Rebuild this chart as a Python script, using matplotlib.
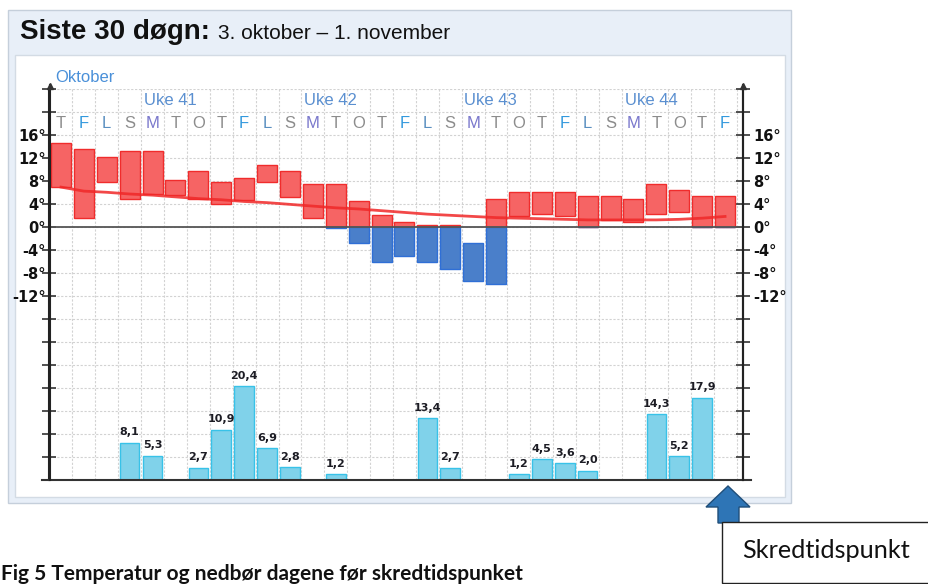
import matplotlib
matplotlib.use("Agg")
import matplotlib.pyplot as plt
from matplotlib.patches import Rectangle, Polygon
from matplotlib.lines import Line2D

W, H = 929, 584

# ---------------- data ----------------
days = ["T", "F", "L", "S", "M", "T", "O", "T", "F", "L", "S", "M", "T", "O", "T",
        "F", "L", "S", "M", "T", "O", "T", "F", "L", "S", "M", "T", "O", "T", "F"]
week_labels = ["Uke 41", "Uke 42", "Uke 43", "Uke 44"]
week_start = [4, 11, 18, 25]
temp_max = [14.5, 13.5, 12.1, 13.2, 13.2, 8.1, 9.7, 7.8, 8.4, 10.8, 9.7, 7.4, 7.4, 4.4, 2.0,
            0.8, 0.3, 0.3, -2.9, 4.8, 6.1, 6.1, 6.1, 5.4, 5.4, 4.8, 7.4, 6.4, 5.4, 5.4]
temp_min = [7.0, 1.6, 7.7, 4.9, 5.7, 5.5, 4.9, 3.9, 4.6, 7.7, 5.2, 1.6, -0.2, -2.8, -6.1,
            -5.1, -6.1, -7.4, -9.4, -9.9, 1.9, 2.2, 1.9, -0.1, 1.2, 0.9, 2.3, 2.6, -0.1, -0.1]
temp_normal = [6.9, 6.2, 6.0, 5.7, 5.5, 5.2, 4.9, 4.7, 4.4, 4.2, 3.9, 3.6, 3.3, 3.1, 2.8,
               2.5, 2.2, 2.0, 1.8, 1.6, 1.5, 1.4, 1.3, 1.2, 1.2, 1.2, 1.2, 1.3, 1.5, 1.8]
precip = [0, 0, 0, 8.1, 5.3, 0, 2.7, 10.9, 20.4, 6.9, 2.8, 0, 1.2, 0, 0,
          0, 13.4, 2.7, 0, 0, 1.2, 4.5, 3.6, 2.0, 0, 0, 14.3, 5.2, 17.9, 0]
temp_tick_vals = [16, 12, 8, 4, 0, -4, -8, -12]
title_bold = "Siste 30 døgn:"
title_rest = "3. oktober – 1. november"
month_label = "Oktober"
caption = "Fig 5 Temperatur og nedbør dagene før skredtidspunket"
marker_text = "Skredtidspunkt"

# ---------------- helpers ----------------
def fx(x):
    return x / W

def fy(y):
    return 1 - y / H

fig = plt.figure(figsize=(W / 100, H / 100), dpi=100)
fig.patch.set_facecolor("white")

# panel background
fig.patches.append(Rectangle((fx(8), fy(503)), fx(791 - 8), (503 - 10) / H,
                             transform=fig.transFigure, facecolor="#e8eff8",
                             edgecolor="#c5cfdb", lw=1.0, zorder=-3))
fig.patches.append(Rectangle((fx(15), fy(497)), fx(785 - 15), (497 - 55) / H,
                             transform=fig.transFigure, facecolor="white",
                             edgecolor="#d3dbe4", lw=1.0, zorder=-2))

fig.text(fx(20), fy(39), title_bold, fontsize=20, fontweight="bold",
         family="Liberation Sans", color="#111111", va="baseline", ha="left")
fig.text(fx(218), fy(39), title_rest, fontsize=15, family="Liberation Sans",
         color="#111111", va="baseline", ha="left")
fig.text(fx(55), fy(82), month_label, fontsize=12, family="Liberation Sans",
         color="#4a90d9", va="baseline", ha="left")

# ---------------- axes ----------------
ax_left, ax_right, ax_bot, ax_top = 49.5, 743.0, 480.0, 88.7
ax = fig.add_axes([fx(ax_left), fy(ax_bot), fx(ax_right - ax_left), (ax_bot - ax_top) / H])
ax.set_facecolor("none")
col_w = 22.9
xr = 29.5 + (ax_right - (ax_left + 30 * col_w)) / col_w
ax.set_xlim(-0.5, xr)
ax.set_ylim(-44, 24)

# grid
for i in range(31):
    ax.axvline(i - 0.5, color="#d2d2d2", lw=0.8, ls=(0, (2, 1.5)), zorder=0)
for v in range(-44, 25, 4):
    ax.axhline(v, color="#d2d2d2", lw=0.8, ls=(0, (2, 1.5)), zorder=0)
ax.axhline(0, color="#555555", lw=1.3, zorder=3)

# temperature bars
bw = 0.87
for i, (lo, hi) in enumerate(zip(temp_min, temp_max)):
    if hi > 0:
        b = max(lo, 0)
        ax.bar(i, hi - b, bottom=b, width=bw, color="#f66464", edgecolor="#f02c2c",
               lw=1.0, zorder=2)
    if lo < 0:
        t = min(hi, 0)
        ax.bar(i, t - lo, bottom=lo, width=bw, color="#4a7fca", edgecolor="#2f6fd6",
               lw=1.0, zorder=2)

ax.plot(range(len(temp_normal)), temp_normal, color="#f02828", lw=2.0, alpha=0.85, zorder=4)

# day letters and weeks
day_colors = {"F": "#3399dd", "L": "#5a8fc0", "M": "#7a78cc"}
for i, d in enumerate(days):
    ax.text(i, 18, d, ha="center", va="center", fontsize=12, family="Liberation Sans",
            color=day_colors.get(d, "#8c8c8c"), zorder=5)
for lab, s in zip(week_labels, week_start):
    ax.text(s - 0.5 + 0.12, 22, lab, ha="left", va="center", fontsize=12,
            family="Liberation Sans", color="#5a8fd0", zorder=5)

# precipitation axes (twinx resets tick sides of ax, so ticks configured afterwards)
axp = ax.twinx()
axp.set_ylim(0, 85)
axp.axis("off")
pb = [i for i, p in enumerate(precip) if p > 0]
pv = [precip[i] for i in pb]
axp.bar(pb, pv, width=0.86, color="#80d2ea", edgecolor="#38c2e8", lw=1.0, zorder=3)
for i, p in zip(pb, pv):
    axp.annotate(f"{p:.1f}".replace(".", ","), (i, p), xytext=(0, 4), textcoords="offset points",
                 ha="center", va="bottom", fontsize=8, fontweight="bold",
                 family="DejaVu Sans", color="#1c1c24")

# ticks
ax.set_xticks([])
ticks = list(range(-44, 25, 4))
ax.set_yticks(ticks)
ax.set_yticklabels([f"{v}°" if v in temp_tick_vals else "" for v in ticks])
ax.tick_params(axis="y", which="both", left=True, right=True, labelleft=True, labelright=False,
               direction="inout", length=10, width=1.2, color="#333333", labelsize=10.5,
               labelcolor="#111111", pad=-2.2)
for t in ax.yaxis.get_major_ticks():
    t.label1.set_fontweight("bold")
# right-hand labels
for v in temp_tick_vals:
    ax.annotate(f"{v}°", (1, v), xycoords=("axes fraction", "data"), xytext=(7.5, 0),
                textcoords="offset points", ha="left", va="center_baseline", fontsize=10.5,
                fontweight="bold", color="#111111", annotation_clip=False)
for spine in ["top", "bottom"]:
    ax.spines[spine].set_visible(False)
for spine in ["left", "right"]:
    ax.spines[spine].set_color("#222222")
    ax.spines[spine].set_linewidth(1.5)

# axis decorations in figure pixels
fig.lines.append(Line2D([fx(42), fx(751)], [fy(480), fy(480)], transform=fig.transFigure,
                        color="#333333", lw=1.5))
for xa in (50, 743):
    fig.lines.append(Line2D([fx(xa), fx(xa)], [fy(480), fy(85)], transform=fig.transFigure,
                            color="#222222", lw=1.5))
    fig.lines.append(Line2D([fx(xa)], [fy(86)], transform=fig.transFigure, marker="^",
                            ms=4, color="#333333"))

# arrow and marker box
arrow = Polygon([(fx(728), fy(486)), (fx(750), fy(507)), (fx(739), fy(507)), (fx(739), fy(523)),
                 (fx(718), fy(523)), (fx(718), fy(507)), (fx(706), fy(507))],
                closed=True, transform=fig.transFigure, facecolor="#2e75b6",
                edgecolor="#1f4e79", lw=1.0, zorder=5)
fig.patches.append(arrow)
fig.patches.append(Rectangle((fx(722), fy(583)), fx(240), (583 - 522) / H,
                             transform=fig.transFigure, facecolor="white",
                             edgecolor="#222222", lw=1.0, zorder=6))
fig.text(fx(742), fy(558), marker_text, fontsize=18.2, family="Lato", color="#111111",
         va="baseline", ha="left", zorder=7)
fig.text(fx(1), fy(580), caption, fontsize=15, family="Lato", fontweight="bold",
         color="#111111", va="baseline", ha="left")

fig.savefig("out.png", dpi=100)
